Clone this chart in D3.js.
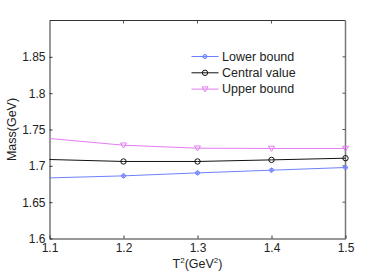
<!DOCTYPE html>
<html>
<head>
<script src="https://d3js.org/d3.v7.min.js"></script>
<style>
  body { margin: 0; background: #fff; }
  svg text { font-family: "Liberation Sans", Arial, sans-serif; fill: #222; }
  .axis path, .axis line { stroke: #333; }
</style>
</head>
<body>
<div id="chart"></div>
<script>
// data
var t2 = [1.1, 1.2, 1.3, 1.4, 1.5];
var lowerBound = [1.6834, 1.6862, 1.6903, 1.6940, 1.6977];
var centralValue = [1.7087, 1.7060, 1.7060, 1.7082, 1.7105];
var upperBound = [1.7376, 1.7284, 1.7243, 1.7239, 1.7239];
var xTicks = [1.1, 1.2, 1.3, 1.4, 1.5];
var yTicks = [1.6, 1.65, 1.7, 1.75, 1.8, 1.85];

var series = [
  { name: "Lower bound", values: lowerBound, color: "#6f80ff", marker: "star" },
  { name: "Central value", values: centralValue, color: "#111", marker: "circle" },
  { name: "Upper bound", values: upperBound, color: "#e47cf2", marker: "tri" }
];

var W = 382, H = 273;
var margin = { top: 20.5, right: 36.5, bottom: 34.5, left: 49.5 };
var width = W - margin.left - margin.right;
var height = H - margin.top - margin.bottom;

var svg = d3.select("#chart").append("svg")
  .attr("width", W).attr("height", H);
var g = svg.append("g")
  .attr("transform", "translate(" + margin.left + "," + margin.top + ")");

var x = d3.scaleLinear().domain([1.1, 1.5]).range([0, width]);
var y = d3.scaleLinear().domain([1.6, 1.9]).range([height, 0]);

// box (top and right)
g.append("line").attr("x1", 0).attr("x2", width).attr("y1", 0).attr("y2", 0).attr("stroke", "#333");
g.append("line").attr("x1", width).attr("x2", width).attr("y1", 0).attr("y2", height).attr("stroke", "#777").attr("stroke-width", 1.5);

// mirrored ticks
g.selectAll(".ttick").data(xTicks.slice(1, -1)).enter().append("line")
  .attr("x1", d => x(d)).attr("x2", d => x(d)).attr("y1", 0).attr("y2", 3).attr("stroke", "#555");
g.selectAll(".rtick").data(yTicks.slice(1)).enter().append("line")
  .attr("x1", width).attr("x2", width - 3).attr("y1", d => y(d)).attr("y2", d => y(d)).attr("stroke", "#555");

var xAxis = g.append("g").attr("class", "axis")
  .attr("transform", "translate(0," + height + ")")
  .call(d3.axisBottom(x).tickValues(xTicks).tickFormat(d3.format(".1f"))
    .tickSizeInner(-3).tickSizeOuter(0).tickPadding(5));
xAxis.selectAll("text").style("font-size", "12px").attr("dy", "0.71em");

var yAxis = g.append("g").attr("class", "axis")
  .call(d3.axisLeft(y).tickValues(yTicks).tickFormat(d => d3.format("")(+d.toFixed(2)))
    .tickSizeInner(-3).tickSizeOuter(0).tickPadding(4));
yAxis.selectAll("text").style("font-size", "12px");

// lines
var line = d3.line().x((d, i) => x(t2[i])).y(d => y(d));
series.forEach(function (s) {
  g.append("path").datum(s.values)
    .attr("fill", "none").attr("stroke", s.color).attr("stroke-width", 1)
    .attr("d", line);
});

function drawMarker(sel, type, color) {
  if (type === "circle") {
    sel.append("circle").attr("r", 2.7).attr("fill", "none").attr("stroke", color).attr("stroke-width", 1);
  } else if (type === "tri") {
    sel.append("path").attr("d", "M-3,-2.2L3,-2.2L0,2.8Z").attr("fill", "none").attr("stroke", color).attr("stroke-width", 1);
  } else {
    sel.append("circle").attr("r", 2).attr("fill", "none").attr("stroke", color).attr("stroke-width", 1);
    sel.append("path").attr("d", "M-2.5,0L2.5,0M0,-2.5L0,2.5").attr("stroke", color).attr("stroke-width", 0.8);
  }
}

// markers (the first point sits on the axis edge and has no visible marker)
series.forEach(function (s) {
  var pts = g.selectAll(null).data(s.values.slice(1)).enter().append("g")
    .attr("transform", (d, i) => "translate(" + x(t2[i + 1]) + "," + y(d) + ")");
  drawMarker(pts, s.marker, s.color);
});

// legend
var legend = g.append("g").attr("transform", "translate(" + (191.5 - margin.left) + "," + (56.5 - margin.top) + ")");
series.forEach(function (s, i) {
  var row = legend.append("g").attr("transform", "translate(0," + (i * 16.3) + ")");
  row.append("line").attr("x1", 0).attr("x2", 27).attr("stroke", s.color);
  drawMarker(row.append("g").attr("transform", "translate(13.5,0)"), s.marker, s.color);
  row.append("text").attr("x", 30.5).attr("y", 0).attr("dy", "0.35em")
    .style("font-size", "12.5px").text(s.name);
});

// axis labels
svg.append("text").attr("text-anchor", "middle")
  .attr("transform", "translate(" + (margin.left + width / 2) + ",268)")
  .style("font-size", "12.5px")
  .html('T<tspan dy="-5" font-size="8px">2</tspan><tspan dy="5">(GeV</tspan><tspan dy="-5" font-size="8px">2</tspan><tspan dy="5">)</tspan>');

svg.append("text").attr("text-anchor", "middle")
  .attr("transform", "translate(16," + (margin.top + height / 2) + ") rotate(-90)")
  .style("font-size", "12.5px")
  .text("Mass(GeV)");
</script>
</body>
</html>
